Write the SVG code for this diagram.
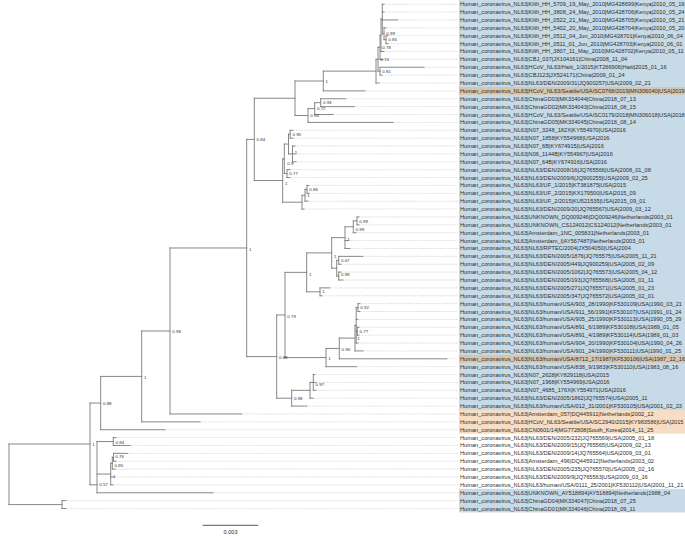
<svg xmlns="http://www.w3.org/2000/svg" width="685" height="536" viewBox="0 0 685 536">
<style>
.b{stroke:#7a7a7a;stroke-width:0.9;fill:none;stroke-linecap:square}
.d{stroke:#c4c4c4;stroke-width:0.6;fill:none;stroke-dasharray:1.6 1.2}
.t{font-family:"Liberation Sans",Arial,sans-serif;font-size:5.65px;fill:#2e2e2e}
.s{font-family:"Liberation Sans",Arial,sans-serif;font-size:4.4px;fill:#333}
</style>
<rect width="685" height="536" fill="#fff"/>
<g id="bands">
<rect x="459" y="0" width="226" height="410.02" fill="#c6dae8"/>
<rect x="459" y="86.94" width="226" height="7.88" fill="#d6c6b0"/>
<rect x="459" y="354.86" width="226" height="7.88" fill="#d6c6b0"/>
<rect x="459" y="410.02" width="226" height="23.64" fill="#f6ddc3"/>
<rect x="459" y="488.82" width="226" height="23.64" fill="#c6dae8"/>
</g>
<g id="connectors">
<path class="b" d="M386 35.72V43.6M384 39.66H386M384 27.84V39.66M382.3 33.75H384M382.3 4.2V33.75M381 18.98H382.3M381 18.98V51.48M380 35.23H381M380 35.23V59.36M378 47.3H380M380 67.24V75.12M378 71.18H380M378 47.3V71.18M376 59.24H378M376 59.24V83M323.3 71.12H376M323.3 71.12V90.88M295 81H323.3"/>
<path class="b" d="M320.7 98.76V106.64M314.7 102.7H320.7M314.7 102.7V114.52M308 108.61H314.7M308 108.61V122.4M295 115.5H308M295 81V115.5M254.3 98.25H295"/>
<path class="b" d="M290.2 130.28V138.16M288.5 134.22H290.2M292.5 146.04V161.8M288.5 153.92H292.5M288.5 134.22V153.92M284.3 144.07H288.5M287 169.68V177.56M284.3 173.62H287M284.3 144.07V173.62M282.7 158.85H284.3M307 185.44V193.32M305 189.38H307M305 189.38V201.2M302 195.29H305M302 195.29V209.08M282.7 202.19H302M282.7 158.85V202.19M254.3 180.52H282.7M254.3 98.25V180.52M246.7 139.39H254.3"/>
<path class="b" d="M357 216.96V224.84M353.3 220.9H357M353.3 220.9V232.72M345 226.81H353.3M345 226.81V248.48M331.7 237.65H345M338.7 256.36V264.24M336.7 260.3H338.7M338.7 272.12V280M336.7 276.06H338.7M336.7 260.3V276.06M331.7 268.18H336.7M331.7 237.65V268.18M306.7 252.9H331.7M320 287.88V295.76M306.7 291.82H320M306.7 252.9V291.82M285 272.36H306.7"/>
<path class="b" d="M358 303.64V311.52M356.2 307.58H358M357.3 327.28V335.16M356.2 331.22H357.3M356.2 307.58V343.04M355 325.31H356.2M355 325.31V350.92M339.3 338.1H355M339.3 338.1V358.8M326 348.45H339.3M326 348.45V366.68M285 357.57H326M285 272.36V357.57M276.7 314.96H285"/>
<path class="b" d="M313.3 374.56V390.32M310 382.44H313.3M310 382.44V398.2M291.7 390.32H310M291.7 390.32V406.08M276.7 398.2H291.7M276.7 314.96V398.2M246.7 356.58H276.7M246.7 139.39V356.58M170 247.99H246.7M170 247.99V413.96M141.7 330.98H170M141.7 330.98V421.84M100.7 376.41H141.7M100.7 376.41V429.72M90 403.07H100.7"/>
<path class="b" d="M113.3 437.6V445.48M97 441.54H113.3M113.5 453.36V461.24M112.3 457.3H113.5M112.3 457.3V469.12M110.7 463.21H112.3M110.7 463.21V484.88M97 474.05H110.7M97 441.54V492.76M90 484.8H97M90 403.07V484.8M9 444H90M62 500.64V508.52M9 504.58H62M9 444V504.58"/>
<path class="b" d="M382.3 4.2H384M382.3 12.08H384M382.3 19.96H397.7M384 27.84H386M386 35.72H388M386 43.6H388M381 51.48H384M380 59.36H383M380 67.24H424M380 75.12H382M376 83H379M323.3 90.88H365M320.7 98.76H345.7M320.7 106.64H354.3M314.7 114.52H333.3M308 122.4H393.3M290.2 130.28H293M290.2 138.16H293M292.5 146.04H295M292.5 153.92H295M292.5 161.8H296M287 169.68H290M287 177.56H290M307 185.44H309M307 193.32H309M305 201.2H308M302 209.08H304M357 216.96H359M357 224.84H359M353.3 232.72H356M345 240.6H348M345 248.48H350M338.7 256.36H363M338.7 264.24H341M338.7 272.12H341M338.7 280H343M320 287.88H330M320 295.76H322M358 303.64H360M358 311.52H360M356.2 319.4H358M357.3 327.28H359M357.3 335.16H359M356.2 343.04H358M355 350.92H363M339.3 358.8H446.7M326 366.68H356.7M313.3 374.56H315M313.3 382.44H316M313.3 390.32H316M310 398.2H313.3M291.7 406.08H306.7M170 413.96H241.7M141.7 421.84H200M100.7 429.72H165M113.3 437.6H116M113.3 445.48H130M113.5 453.36H127.7M113.5 461.24H116M112.3 469.12H115M110.7 477H114M110.7 484.88H113M97 492.76H213M62 500.64H66M62 508.52H66"/>
<path class="d" d="M384 4.2H458M384 12.08H458M397.7 19.96H458M386 27.84H458M388 35.72H458M388 43.6H458M384 51.48H458M383 59.36H458M424 67.24H458M382 75.12H458M379 83H458M365 90.88H458M345.7 98.76H458M354.3 106.64H458M333.3 114.52H458M393.3 122.4H458M293 130.28H458M293 138.16H458M295 146.04H458M295 153.92H458M296 161.8H458M290 169.68H458M290 177.56H458M309 185.44H458M309 193.32H458M308 201.2H458M304 209.08H458M359 216.96H458M359 224.84H458M356 232.72H458M348 240.6H458M350 248.48H458M363 256.36H458M341 264.24H458M341 272.12H458M343 280H458M330 287.88H458M322 295.76H458M360 303.64H458M360 311.52H458M358 319.4H458M359 327.28H458M359 335.16H458M358 343.04H458M363 350.92H458M446.7 358.8H458M356.7 366.68H458M315 374.56H458M316 382.44H458M316 390.32H458M313.3 398.2H458M306.7 406.08H458M241.7 413.96H458M200 421.84H458M165 429.72H458M116 437.6H458M130 445.48H458M127.7 453.36H458M116 461.24H458M115 469.12H458M114 477H458M113 484.88H458M213 492.76H458M66 500.64H458M66 508.52H458"/>
</g>
<g id="support">
<text class="s" x="388.3" y="41.3">0.85</text>
<text class="s" x="386.3" y="35.4">0.99</text>
<text class="s" x="382.3" y="48.9">0.78</text>
<text class="s" x="382.3" y="72.8">0.81</text>
<text class="s" x="380.3" y="60.9">0.74</text>
<text class="s" x="325.6" y="82.6">1</text>
<text class="s" x="323" y="104.3">0.93</text>
<text class="s" x="317" y="110.2">0.72</text>
<text class="s" x="310.3" y="117.1">0.94</text>
<text class="s" x="256.6" y="141">0.84</text>
<text class="s" x="292.5" y="135.8">0.95</text>
<text class="s" x="294.8" y="153.9">1</text>
<text class="s" x="289.3" y="175.2">0.77</text>
<text class="s" x="287.3" y="164.9">0.9</text>
<text class="s" x="309.3" y="191">0.86</text>
<text class="s" x="307.3" y="196.9">1</text>
<text class="s" x="285" y="184.9">1</text>
<text class="s" x="359.3" y="222.5">0.99</text>
<text class="s" x="355.6" y="230.9">0.99</text>
<text class="s" x="347.3" y="240.9">1</text>
<text class="s" x="341" y="261.9">0.67</text>
<text class="s" x="341" y="275.6">0.99</text>
<text class="s" x="334" y="257.6">1</text>
<text class="s" x="322.3" y="293.4">1</text>
<text class="s" x="309" y="275.6">1</text>
<text class="s" x="360.3" y="309.2">0.92</text>
<text class="s" x="359.6" y="332.8">0.77</text>
<text class="s" x="357.3" y="339.7">1</text>
<text class="s" x="341.6" y="350.9">0.96</text>
<text class="s" x="328.3" y="359.9">1</text>
<text class="s" x="287.3" y="317.6">0.79</text>
<text class="s" x="315.6" y="385.9">0.97</text>
<text class="s" x="294" y="399.8">0.98</text>
<text class="s" x="279" y="359.3">0.88</text>
<text class="s" x="249" y="250.9">1</text>
<text class="s" x="172.3" y="333.3">0.98</text>
<text class="s" x="144" y="378.6">1</text>
<text class="s" x="103" y="404.9">0.88</text>
<text class="s" x="92.3" y="445.6">1</text>
<text class="s" x="115.6" y="443.9">0.84</text>
<text class="s" x="115.3" y="458.3">0.76</text>
<text class="s" x="114.6" y="467.3">0.85</text>
<text class="s" x="113" y="478.3">1</text>
<text class="s" x="99.3" y="486.4">0.57</text>
</g>
<g id="leaves">
<text class="t" x="460" y="6.2">Human_coronavirus_NL63|Kilifi_HH_5709_19_May_2010|MG428699|Kenya|2010_05_19</text>
<text class="t" x="460" y="14.08">Human_coronavirus_NL63|Kilifi_HH_3808_24_May_2010|MG428706|Kenya|2010_05_24</text>
<text class="t" x="460" y="21.96">Human_coronavirus_NL63|Kilifi_HH_0522_21_May_2010|MG428705|Kenya|2010_05_21</text>
<text class="t" x="460" y="29.84">Human_coronavirus_NL63|Kilifi_HH_5402_20_May_2010|MG428704|Kenya|2010_05_20</text>
<text class="t" x="460" y="37.72">Human_coronavirus_NL63|Kilifi_HH_0512_04_Jun_2010|MG428701|Kenya|2010_06_04</text>
<text class="t" x="460" y="45.6">Human_coronavirus_NL63|Kilifi_HH_0511_01_Jun_2010|MG428703|Kenya|2010_06_01</text>
<text class="t" x="460" y="53.48">Human_coronavirus_NL63|Kilifi_HH_3807_11_May_2010|MG428702|Kenya|2010_05_11</text>
<text class="t" x="460" y="61.36">Human_coronavirus_NL63|CBJ_037|JX104161|China|2008_11_04</text>
<text class="t" x="460" y="69.24">Human_coronavirus_NL63|HCoV_NL63/Haiti_1/2015|KT266906|Haiti|2015_01_16</text>
<text class="t" x="460" y="77.12">Human_coronavirus_NL63|CBJ123|JX524171|China|2009_01_24</text>
<text class="t" x="460" y="85">Human_coronavirus_NL63|NL63/DEN/2009/31|JQ900257|USA|2009_02_21</text>
<text class="t" x="460" y="92.88">Human_coronavirus_NL63|HCoV_NL63/Seattle/USA/SC0768/2019|MN306040|USA|2019</text>
<text class="t" x="460" y="100.76">Human_coronavirus_NL63|ChinaGD03|MK334044|China|2018_07_13</text>
<text class="t" x="460" y="108.64">Human_coronavirus_NL63|ChinaGD02|MK334043|China|2018_08_15</text>
<text class="t" x="460" y="116.52">Human_coronavirus_NL63|HCoV_NL63/Seattle/USA/SC0179/2018|MN306018|USA|2018</text>
<text class="t" x="460" y="124.4">Human_coronavirus_NL63|ChinaGD05|MK334045|China|2018_08_14</text>
<text class="t" x="460" y="132.28">Human_coronavirus_NL63|N07_3248_182X|KY554970|USA|2016</text>
<text class="t" x="460" y="140.16">Human_coronavirus_NL63|N07_1858|KY554968|USA|2016</text>
<text class="t" x="460" y="148.04">Human_coronavirus_NL63|N07_6B|KY674915|USA|2016</text>
<text class="t" x="460" y="155.92">Human_coronavirus_NL63|N06_1144B|KY554967|USA|2016</text>
<text class="t" x="460" y="163.8">Human_coronavirus_NL63|N07_64B|KY674916|USA|2016</text>
<text class="t" x="460" y="171.68">Human_coronavirus_NL63|NL63/DEN/2008/16|JQ765566|USA|2008_01_08</text>
<text class="t" x="460" y="179.56">Human_coronavirus_NL63|NL63/DEN/2009/6|JQ900255|USA|2009_02_25</text>
<text class="t" x="460" y="187.44">Human_coronavirus_NL63|NL63/UF_1/2015|KT381875|USA|2015</text>
<text class="t" x="460" y="195.32">Human_coronavirus_NL63|NL63/UF_2/2015|KX179500|USA|2015_09</text>
<text class="t" x="460" y="203.2">Human_coronavirus_NL63|NL63/UF_2/2015|KU521535|USA|2015_09_01</text>
<text class="t" x="460" y="211.08">Human_coronavirus_NL63|NL63/DEN/2009/20|JQ765567|USA|2009_03_12</text>
<text class="t" x="460" y="218.96">Human_coronavirus_NL63|UNKNOWN_DQ009246|DQ009246|Netherlands|2003_01</text>
<text class="t" x="460" y="226.84">Human_coronavirus_NL63|UNKNOWN_CS124012|CS124012|Netherlands|2003_01</text>
<text class="t" x="460" y="234.72">Human_coronavirus_NL63|Amsterdam_1NC_005831|Netherlands|2003_01</text>
<text class="t" x="460" y="242.6">Human_coronavirus_NL63|Amsterdam_I|AY567487|Netherlands|2003_01</text>
<text class="t" x="460" y="250.48">Human_coronavirus_NL63|NL63/RPTEC/2004|JX504050|USA|2004</text>
<text class="t" x="460" y="258.36">Human_coronavirus_NL63|NL63/DEN/2005/1876|JQ765575|USA|2005_11_21</text>
<text class="t" x="460" y="266.24">Human_coronavirus_NL63|NL63/DEN/2005/449|JQ900259|USA|2005_02_09</text>
<text class="t" x="460" y="274.12">Human_coronavirus_NL63|NL63/DEN/2005/1062|JQ765573|USA|2005_04_12</text>
<text class="t" x="460" y="282">Human_coronavirus_NL63|NL63/DEN/2005/193|JQ765568|USA|2005_01_11</text>
<text class="t" x="460" y="289.88">Human_coronavirus_NL63|NL63/DEN/2005/271|JQ765571|USA|2005_01_23</text>
<text class="t" x="460" y="297.76">Human_coronavirus_NL63|NL63/DEN/2005/347|JQ765572|USA|2005_02_01</text>
<text class="t" x="460" y="305.64">Human_coronavirus_NL63|NL63/human/USA/903_28/1990|KF530109|USA|1990_03_21</text>
<text class="t" x="460" y="313.52">Human_coronavirus_NL63|NL63/human/USA/911_56/1991|KF530107|USA|1991_01_24</text>
<text class="t" x="460" y="321.4">Human_coronavirus_NL63|NL63/human/USA/905_25/1990|KF530113|USA|1990_05_29</text>
<text class="t" x="460" y="329.28">Human_coronavirus_NL63|NL63/human/USA/891_6/1989|KF530108|USA|1989_01_05</text>
<text class="t" x="460" y="337.16">Human_coronavirus_NL63|NL63/human/USA/891_4/1989|KF530114|USA|1989_01_03</text>
<text class="t" x="460" y="345.04">Human_coronavirus_NL63|NL63/human/USA/904_20/1990|KF530104|USA|1990_04_26</text>
<text class="t" x="460" y="352.92">Human_coronavirus_NL63|NL63/human/USA/901_24/1990|KF530111|USA|1990_01_25</text>
<text class="t" x="460" y="360.8">Human_coronavirus_NL63|NL63/human/USA/8712_17/1987|KF530106|USA|1987_12_16</text>
<text class="t" x="460" y="368.68">Human_coronavirus_NL63|NL63/human/USA/838_9/1983|KF530110|USA|1983_08_16</text>
<text class="t" x="460" y="376.56">Human_coronavirus_NL63|N07_2628|KY829118|USA|2015</text>
<text class="t" x="460" y="384.44">Human_coronavirus_NL63|N07_1968|KY554969|USA|2016</text>
<text class="t" x="460" y="392.32">Human_coronavirus_NL63|N07_4685_176X|KY554971|USA|2016</text>
<text class="t" x="460" y="400.2">Human_coronavirus_NL63|NL63/DEN/2005/1862|JQ765574|USA|2005_11</text>
<text class="t" x="460" y="408.08">Human_coronavirus_NL63|NL63/human/USA/012_31/2001|KF530105|USA|2001_02_23</text>
<text class="t" x="460" y="415.96">Human_coronavirus_NL63|Amsterdam_057|DQ445911|Netherlands|2002_12</text>
<text class="t" x="460" y="423.84">Human_coronavirus_NL63|HCoV_NL63/Seattle/USA/SC2940/2015|KY983586|USA|2015</text>
<text class="t" x="460" y="431.72">Human_coronavirus_NL63|CN0601/14|MG772808|South_Korea|2014_11_25</text>
<text class="t" x="460" y="439.6">Human_coronavirus_NL63|NL63/DEN/2005/232|JQ765569|USA|2005_01_18</text>
<text class="t" x="460" y="447.48">Human_coronavirus_NL63|NL63/DEN/2009/15|JQ765565|USA|2009_02_13</text>
<text class="t" x="460" y="455.36">Human_coronavirus_NL63|NL63/DEN/2009/14|JQ765564|USA|2009_03_01</text>
<text class="t" x="460" y="463.24">Human_coronavirus_NL63|Amsterdam_496|DQ445912|Netherlands|2003_02</text>
<text class="t" x="460" y="471.12">Human_coronavirus_NL63|NL63/DEN/2005/235|JQ765570|USA|2005_02_16</text>
<text class="t" x="460" y="479">Human_coronavirus_NL63|NL63/DEN/2009/9|JQ765563|USA|2009_03_16</text>
<text class="t" x="460" y="486.88">Human_coronavirus_NL63|NL63/human/USA/0111_25/2001|KF530112|USA|2001_11_21</text>
<text class="t" x="460" y="494.76">Human_coronavirus_NL63|UNKNOWN_AY518894|AY518894|Netherlands|1988_04</text>
<text class="t" x="460" y="502.64">Human_coronavirus_NL63|ChinaGD04|MK334047|China|2018_07_25</text>
<text class="t" x="460" y="510.52">Human_coronavirus_NL63|ChinaGD01|MK334046|China|2018_09_11</text>
</g>
<g id="scale">
<path class="b" d="M203.3 525.3H257.7" style="stroke-width:1.2"/>
<text class="t" x="230.5" y="534" text-anchor="middle">0.003</text>
</g>
</svg>
